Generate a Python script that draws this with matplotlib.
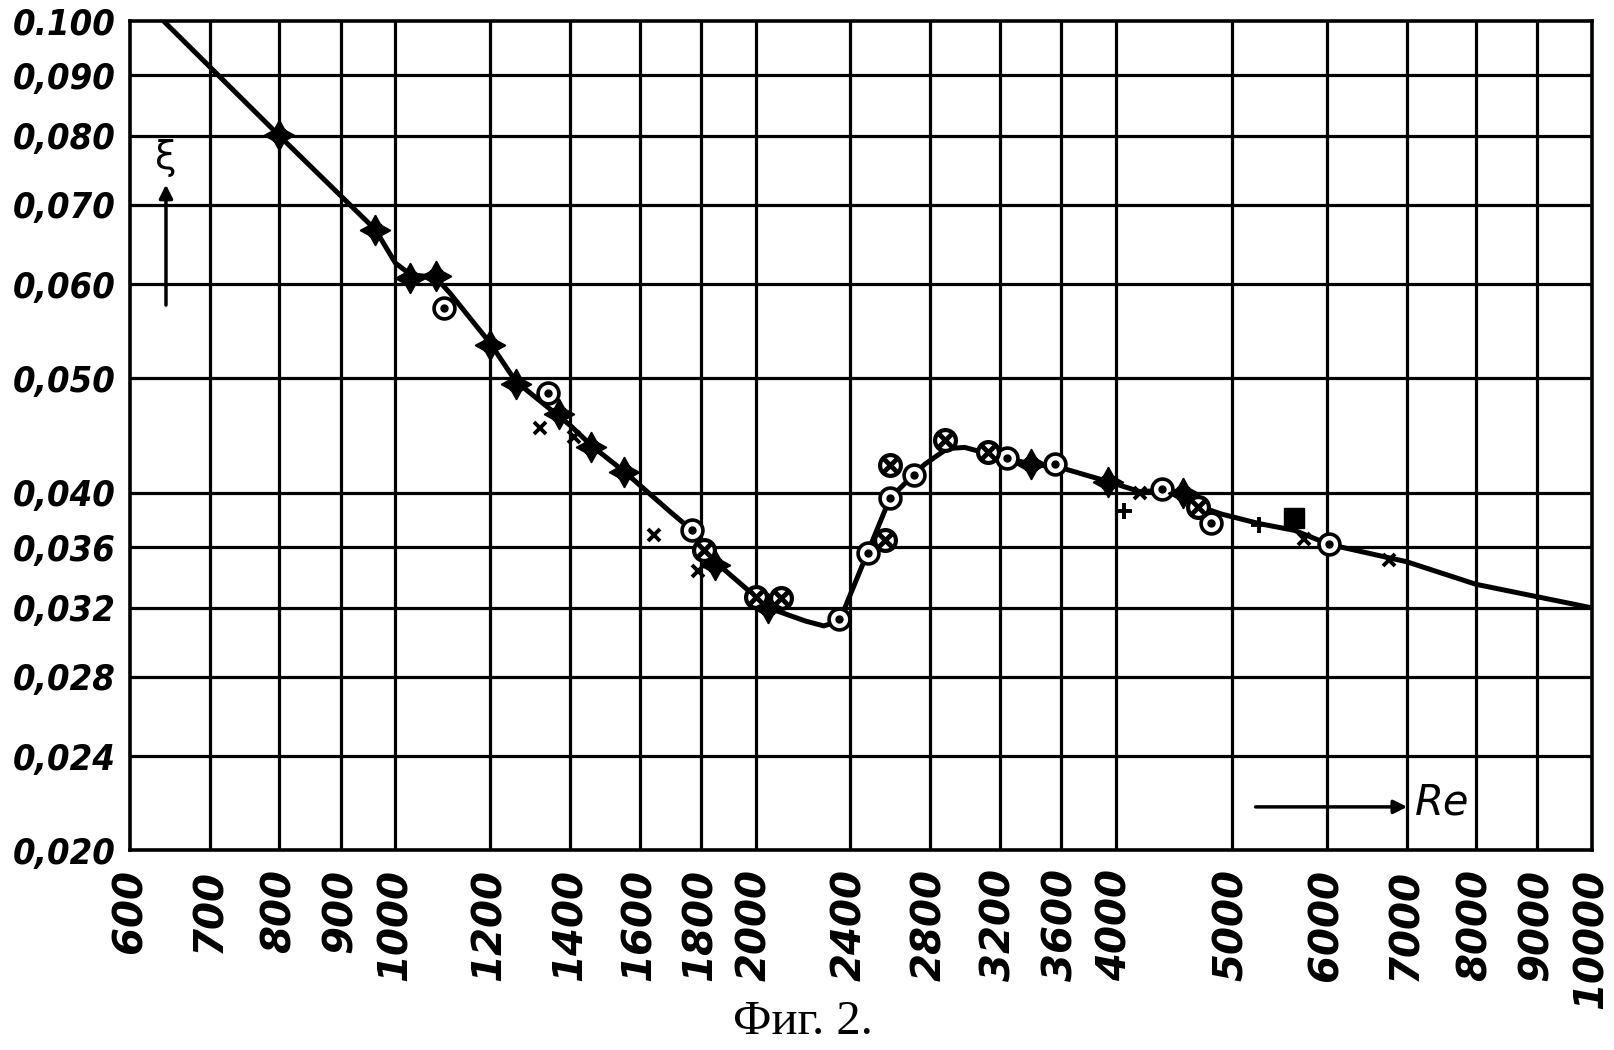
import numpy as np
import matplotlib
matplotlib.use('Agg')
from matplotlib import pyplot as plt
from matplotlib import font_manager
from matplotlib.ticker import NullLocator

# grid values and labels
grid_re = [600, 700, 800, 900, 1000, 1200, 1400, 1600, 1800, 2000, 2400, 2800,
           3200, 3600, 4000, 5000, 6000, 7000, 8000, 9000, 10000]
grid_re_lab = ['600', '700', '800', '900', '1000', '1200', '1400', '1600', '1800',
               '2000', '2400', '2800', '3200', '3600', '4000', '5000', '6000',
               '7000', '8000', '9000', '10000']
grid_xi = [0.020, 0.024, 0.028, 0.032, 0.036, 0.040, 0.050, 0.060, 0.070,
           0.080, 0.090, 0.100]
grid_xi_lab = ['0,020', '0,024', '0,028', '0,032', '0,036', '0,040', '0,050',
               '0,060', '0,070', '0,080', '0,090', '0.100']

# drawn curve
curve_re = [640, 800, 962, 1000, 1030, 1080, 1110, 1200, 1260, 1400, 1460, 1553,
            1700, 1770, 1850, 2000, 2050, 2200, 2280, 2350, 2480, 2590, 2715,
            2770, 2835, 2893, 2990, 3120, 3400, 3600, 3940, 4190, 4372, 4550,
            4686, 4900, 5264, 5640, 6030, 7000, 8000, 9000, 10000]
curve_xi = [0.100, 0.080, 0.0667, 0.0625, 0.0611, 0.0608, 0.0590, 0.0535, 0.0497,
            0.0456, 0.0438, 0.0417, 0.0385, 0.0372, 0.0350, 0.0327, 0.0320,
            0.0312, 0.0309, 0.0312, 0.0356, 0.0396, 0.0415, 0.0423, 0.0430,
            0.0436, 0.0437, 0.0432, 0.0423, 0.0420, 0.0409, 0.0401, 0.0402,
            0.0398, 0.0390, 0.0384, 0.0377, 0.0372, 0.0362, 0.0350, 0.0335,
            0.0327, 0.0320]

# measured points
cdot_re = [1098, 1340, 1770, 2350, 2481, 2590, 2715, 3247, 3560, 4372, 4800, 6030]
cdot_xi = [0.0573, 0.0486, 0.0372, 0.0313, 0.0356, 0.0396, 0.0414, 0.0428,
           0.0423, 0.0403, 0.0377, 0.0362]
ccross_re = [1810, 2000, 2100, 2563, 2590, 2877, 3130, 4686]
ccross_xi = [0.0358, 0.0327, 0.0326, 0.0365, 0.0422, 0.0443, 0.0433, 0.0389]
star_re = [800, 962, 1028, 1081, 1200, 1260, 1370, 1456, 1553, 1850, 2050,
           3395, 3940, 4550]
star_xi = [0.0802, 0.0667, 0.0607, 0.0610, 0.0533, 0.0494, 0.0466, 0.0437,
           0.0417, 0.0348, 0.0320, 0.0423, 0.0409, 0.0400]
x_re = [1320, 1410, 1645, 1790, 4190, 5750, 6760]
x_xi = [0.0454, 0.0446, 0.0369, 0.0344, 0.0400, 0.0366, 0.0351]
plus_re = [4060, 5264]
plus_xi = [0.0386, 0.0376]
sq_re = [5640]
sq_xi = [0.0381]

# narrow face for the y labels if one is installed
ttf = font_manager.fontManager.ttflist
names = {f.name for f in ttf}
ystretch = 'normal'
if 'Liberation Sans Narrow' in names:
    yfont, yfs = 'Liberation Sans Narrow', 36
elif 'DejaVu Sans Condensed' in names:
    yfont, yfs = 'DejaVu Sans Condensed', 26
elif any(f.name == 'DejaVu Sans' and 'condensed' in str(f.stretch) for f in ttf):
    yfont, yfs, ystretch = 'DejaVu Sans', 26, 'condensed'
else:
    yfont, yfs = 'DejaVu Sans', 23

fig = plt.figure(figsize=(16.14, 10.5), dpi=100)
ax = fig.add_axes([130/1614, 1 - 850/1050, 1462/1614, 829/1050])
ax.set_xscale('log')
ax.set_yscale('log')
ax.set_xlim(600, 10000)
ax.set_ylim(0.020, 0.100)

for v in grid_re[1:-1]:
    ax.axvline(v, color='black', lw=2.3, zorder=1)
for v in grid_xi[1:-1]:
    ax.axhline(v, color='black', lw=2.3, zorder=1)
for s in ax.spines.values():
    s.set_linewidth(2.6)

ax.set_xticks(grid_re)
ax.set_xticklabels(grid_re_lab, rotation=90, fontsize=29, fontweight='bold',
                   fontstyle='italic', family='DejaVu Sans', va='top', ha='center')
ax.set_yticks(grid_xi)
ax.set_yticklabels(grid_xi_lab, fontsize=yfs, fontweight='bold',
                   fontstyle='italic', family=yfont, fontstretch=ystretch)
ax.xaxis.set_minor_locator(NullLocator())
ax.yaxis.set_minor_locator(NullLocator())
ax.tick_params(axis='x', length=0, pad=14)
ax.tick_params(axis='y', length=0, pad=10)

ax.plot(curve_re, curve_xi, color='black', lw=3.6, zorder=3, solid_capstyle='round')

ax.plot(cdot_re, cdot_xi, 'o', ms=15, mfc='white', mec='black', mew=2.6, zorder=5)
ax.plot(cdot_re, cdot_xi, 'o', ms=5, color='black', zorder=6)
ax.plot(ccross_re, ccross_xi, 'o', ms=15, mfc='white', mec='black', mew=3, zorder=5)
ax.plot(ccross_re, ccross_xi, 'x', ms=10, color='black', mew=3.5, zorder=6)
ax.plot(star_re, star_xi, marker=(4, 1, 0), ls='none', ms=22, color='black', zorder=5)
ax.plot(star_re, star_xi, 's', ms=9, color='black', zorder=5)
ax.plot(x_re, x_xi, 'x', ms=9, color='black', mew=2.8, zorder=5)
ax.plot(plus_re, plus_xi, '+', ms=12, color='black', mew=2.8, zorder=5)
ax.plot(sq_re, sq_xi, 's', ms=14, color='black', zorder=5)

# axis names with arrows
ax.annotate('', xy=(0.0246, 0.806), xytext=(0.0246, 0.654), xycoords='axes fraction',
            arrowprops=dict(arrowstyle='-|>', color='black', lw=2.5, mutation_scale=20))
ax.text(0.0246, 0.835, 'ξ', transform=ax.transAxes, fontsize=28, ha='center',
        va='center')
ax.annotate('', xy=(0.8755, 0.052), xytext=(0.768, 0.052), xycoords='axes fraction',
            arrowprops=dict(arrowstyle='-|>', color='black', lw=2.5, mutation_scale=20))
ax.text(0.879, 0.057, 'Re', transform=ax.transAxes, fontsize=30, ha='left',
        va='center', fontstyle='italic', zorder=7)

fig.text(803/1614, 1 - 1022/1050, 'Фиг. 2.', fontsize=35, family='Liberation Serif',
         ha='center', va='center')

plt.savefig('out.png', dpi=100)
